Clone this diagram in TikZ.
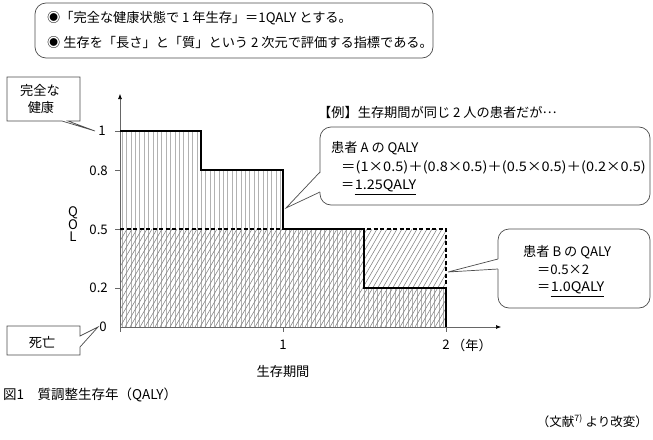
\documentclass[tikz,border=0pt]{standalone}
\usepackage{fontspec}
\setmainfont{Noto Sans CJK JP}
\usetikzlibrary{arrows.meta}
\begin{document}
\begin{tikzpicture}[x=1pt,y=-1pt,
  txt/.style={inner sep=0pt, font=\fontsize{13.2}{15}\selectfont},
  small/.style={inner sep=0pt, font=\fontsize{12.5}{14}\selectfont},
  captxt/.style={inner sep=0pt, font=\fontsize{13.5}{16}\selectfont},
  callbox/.style={draw=black!70, line width=0.7pt, fill=white, rounded corners=11pt},
  plainbox/.style={draw=black!70, line width=0.7pt, fill=white, line join=miter},
  ptr/.style={draw=black!70, line width=0.7pt},
  qaline/.style={line width=1.8pt, black, line join=miter},
  qbline/.style={line width=1.8pt, black, dash pattern=on 4pt off 2.5pt},
  vhatch/.style={black!30, line width=0.6pt},
  dhatch/.style={black!50, line width=0.55pt},
  axisline/.style={black!60, line width=0.6pt, -{Latex[length=5pt,width=4pt,black]}},
  tickline/.style={black!60, line width=0.6pt}
]
\useasboundingbox (0,0) rectangle (653,439);

% hatching
\begin{scope}
\clip (120,327) -- (120,131) -- (201,131) -- (201,170) -- (283,170) -- (283,229) -- (364,229) -- (364,288) -- (446,288) -- (446,327) -- cycle;
\foreach \i in {0,...,74} \draw[vhatch] ({122+4.4*\i},120) -- ({122+4.4*\i},330);
\end{scope}
\begin{scope}
\clip (120,229) rectangle (446,327);
\foreach \i in {0,...,80} \draw[dhatch] ({60+5*\i},327) -- ({60+5*\i+57},229);
\end{scope}

% axes
\coordinate (O) at (120,327);
\coordinate (ytop) at (120,94);
\coordinate (xend) at (501,327);
\draw[axisline] (O) -- (ytop);
\draw[axisline] (O) -- (xend);
\foreach \y in {131,170,229,288} \draw[tickline] (115,\y) -- (120,\y);
\foreach \x in {120,283,446} \draw[tickline] (\x,327) -- (\x,332);

% curves
\draw[qbline] (120,229) -- (446,229) -- (446,288);
\draw[qaline] (120,131) -- (201,131) -- (201,170) -- (283,170) -- (283,229) -- (364,229) -- (364,288) -- (446,288) -- (446,327);

% tick labels
\node[txt, anchor=east] (y1) at (106,131) {1};
\node[txt, anchor=east] (y08) at (108,171) {0.8};
\node[txt, anchor=east] (y05) at (108,230) {0.5};
\node[txt, anchor=east] (y02) at (108,288) {0.2};
\node[txt, anchor=east] (y0) at (107,327) {0};
\node[txt] (q1) at (73,213) {Q};
\node[txt] (q2) at (73,225) {O};
\node[txt] (q3) at (73,237) {L};
\node[txt] (x1) at (283,345) {1};
\node[txt] (x2) at (446,345) {2};
\node[txt, anchor=west] (xy) at (452,345) {（年）};
\node[txt] (xl) at (283,372) {生存期間};

% top box
\draw[callbox] (35,3) rectangle (433,58);
\node[txt, anchor=west] (t1) at (47,18) {◉「完全な健康状態で 1 年生存」＝1QALY とする。};
\node[txt, anchor=west] (t2) at (47,42) {◉ 生存を「長さ」と「質」という 2 次元で評価する指標である。};

% full health box
\draw[plainbox] (7,77) -- (80,77) -- (80,121) -- (68,121) -- (95,131) -- (62,121) -- (7,121) -- cycle;
\node[txt] (fh1) at (40,90) {完全な};
\node[txt] (fh2) at (41,108) {健康};

% death box
\draw[plainbox] (7,326) -- (80,326) -- (80,336) -- (98,327) -- (80,347) -- (80,355) -- (7,355) -- cycle;
\node[txt] (dd) at (42,342) {死亡};

% example
\node[txt, anchor=west] (ex) at (318,112) {【例】生存期間が同じ 2 人の患者だが\raisebox{3.5pt}{…}};

% callout A
\draw[callbox] (320,127) rectangle (650,205);
\fill[white] (321,172) -- (286,208) -- (321,192) -- cycle;
\draw[ptr] (320,172) -- (286,208) -- (320,192);
\node[txt, anchor=west] (a1) at (331,148) {患者 A の QALY};
\node[txt, anchor=west] (a2) at (341,167) {\scalebox{1.1}[1]{＝(1×0.5)＋(0.8×0.5)＋(0.5×0.5)＋(0.2×0.5)}};
\node[txt, anchor=west] (a3) at (341,186) {＝};
\node[txt, anchor=west] (a3v) at (a3.east) {\scalebox{1.09}[1]{1.25QALY}};
\draw[line width=0.9pt] ([yshift=-2pt]a3v.south west) -- ([yshift=-2pt]a3v.south east);

% callout B
\draw[callbox] (498,229) rectangle (650,308);
\fill[white] (499,259) -- (448,272) -- (499,269) -- cycle;
\draw[ptr] (498,259) -- (448,272) -- (498,269);
\node[txt, anchor=west] (b1) at (523,252) {患者 B の QALY};
\node[txt, anchor=west] (b2) at (537,270) {＝0.5×2};
\node[txt, anchor=west] (b3) at (537,288) {＝};
\node[txt, anchor=west] (b3v) at (b3.east) {\scalebox{1.09}[1]{1.0QALY}};
\draw[line width=0.9pt] ([yshift=-2pt]b3v.south west) -- ([yshift=-2pt]b3v.south east);

% caption
\node[captxt, anchor=west] (cap) at (3,395) {図1　質調整生存年（QALY）};
\node[small, anchor=east] (src) at (648,421) {（文献\textsuperscript{7)} より改変）};
\end{tikzpicture}
\end{document}
